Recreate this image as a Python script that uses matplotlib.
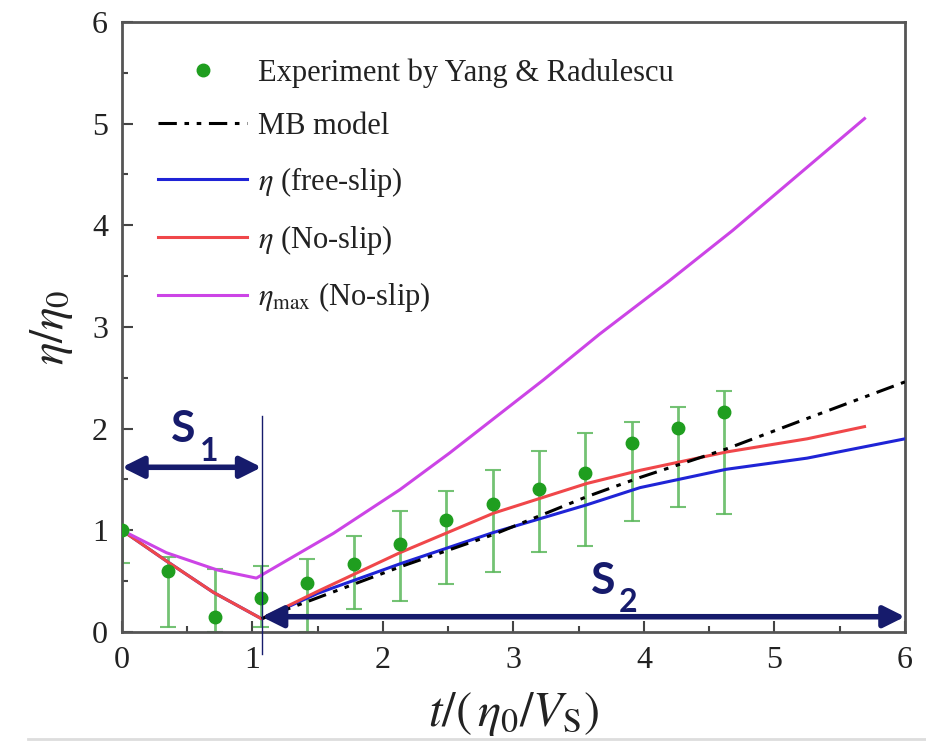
import matplotlib
matplotlib.use('Agg')
import matplotlib.pyplot as plt
from matplotlib.ticker import MultipleLocator
from matplotlib.lines import Line2D

plt.rcParams['font.family'] = ['Liberation Serif', 'DejaVu Serif']
plt.rcParams['mathtext.fontset'] = 'stix'

# experiment (Yang & Radulescu), asymmetric error bars
x_exp = [0, 0.355, 0.71, 1.065, 1.42, 1.775, 2.13, 2.485, 2.84, 3.195, 3.55, 3.905, 4.26, 4.615]
y_exp = [1.00, 0.60, 0.15, 0.33, 0.48, 0.67, 0.87, 1.10, 1.26, 1.41, 1.56, 1.86, 2.01, 2.16]
err_lo = [0.32, 0.55, 0.15, 0.28, 0.48, 0.44, 0.57, 0.63, 0.67, 0.62, 0.71, 0.77, 0.78, 1.00]
err_hi = [0.00, 0.14, 0.47, 0.32, 0.24, 0.27, 0.32, 0.29, 0.33, 0.37, 0.40, 0.21, 0.20, 0.21]

# MB model
x_mb = [1.07, 2.13, 2.85, 3.56, 3.97, 4.63, 5.25, 6.0]
y_mb = [0.13, 0.64, 0.96, 1.33, 1.52, 1.80, 2.10, 2.46]

# eta free-slip
x_free = [0, 0.35, 0.70, 1.07, 1.5, 2.13, 2.85, 3.56, 3.97, 4.63, 5.25, 6.0]
y_free = [1.0, 0.69, 0.39, 0.13, 0.38, 0.67, 0.98, 1.25, 1.42, 1.60, 1.71, 1.90]

# eta no-slip
x_no = [0, 0.35, 0.70, 1.07, 1.5, 2.13, 2.85, 3.56, 3.97, 4.63, 5.25, 5.69]
y_no = [1.0, 0.69, 0.39, 0.13, 0.40, 0.78, 1.17, 1.46, 1.59, 1.77, 1.90, 2.02]

# eta_max no-slip
x_max = [0, 0.34, 0.73, 1.03, 1.62, 2.13, 2.51, 3.23, 3.66, 4.18, 4.68, 5.69]
y_max = [1.0, 0.78, 0.61, 0.53, 0.97, 1.40, 1.76, 2.48, 2.93, 3.44, 3.95, 5.05]

navy = '#161b6c'

fig = plt.figure(figsize=(9.26, 7.45), dpi=100)
ax = fig.add_axes([0.1317, 0.1517, 0.8456, 0.8188])

ax.errorbar(x_exp, y_exp, yerr=[err_lo, err_hi], fmt='none', ecolor='#5cb85c',
            elinewidth=2, capsize=6, capthick=1.5, alpha=0.85, zorder=2)
ax.plot(x_exp, y_exp, 'o', color='#1f9e1f', ms=9, zorder=5,
        label='Experiment by Yang & Radulescu')
ax.plot(x_mb, y_mb, color='black', lw=2.2, ls=(0, (6, 2.5, 1.5, 2.5, 1.5, 2.5)), zorder=4,
        label='MB model')
ax.plot(x_free, y_free, color='#1f24d6', lw=2.2, zorder=3, label=r'$\eta$ (free-slip)')
ax.plot(x_no, y_no, color='#f0474a', lw=2.2, zorder=3, label=r'$\eta$ (No-slip)')
ax.plot(x_max, y_max, color='#cc44e6', lw=2.2, zorder=3, label=r'$\eta_\mathrm{max}$ (No-slip)')

ax.set_xlim(0, 6)
ax.set_ylim(0, 6)
ax.xaxis.set_major_locator(MultipleLocator(1))
ax.yaxis.set_major_locator(MultipleLocator(1))
ax.xaxis.set_minor_locator(MultipleLocator(0.5))
ax.yaxis.set_minor_locator(MultipleLocator(0.5))
ax.tick_params(which='both', direction='in', colors='#444444', labelcolor='#222222',
               labelsize=23, width=1.5)
ax.tick_params(which='major', length=8, pad=10)
ax.tick_params(which='minor', length=4)
for sp in ax.spines.values():
    sp.set_color('#555555')
    sp.set_linewidth(2)

ax.set_xlabel(r'$t/(\,\eta_0/V_\mathrm{S})$', fontsize=35, color='#222222', labelpad=11)
ax.set_ylabel(r'$\eta/\eta_0$', fontsize=34, color='#222222', labelpad=12)

leg = ax.legend(loc='upper left', bbox_to_anchor=(0.031, 0.96), frameon=False,
                fontsize=22, handlelength=2.9, handletextpad=0.35, labelspacing=0.78,
                borderaxespad=0)
for t in leg.get_texts():
    t.set_color('#222222')

# S1 / S2 annotations
ax.plot([1.07, 1.07], [-0.22, 2.12], color=navy, lw=1, clip_on=False, zorder=6)
ax.annotate('', xy=(0.0, 1.62), xytext=(1.07, 1.62),
            arrowprops=dict(arrowstyle='<|-|>', color=navy, lw=4, mutation_scale=32,
                            shrinkA=0, shrinkB=0), zorder=7)
ax.annotate('', xy=(1.07, 0.15), xytext=(6.0, 0.15),
            arrowprops=dict(arrowstyle='<|-|>', color=navy, lw=4, mutation_scale=32,
                            shrinkA=0, shrinkB=0), zorder=7, annotation_clip=False)
ax.text(0.47, 1.80, 'S', color=navy, fontsize=32, fontweight='bold', family='Lato',
        ha='center', va='bottom')
ax.text(0.67, 1.63, '1', color=navy, fontsize=23, fontweight='bold', family='Lato',
        ha='center', va='bottom')
ax.text(3.69, 0.30, 'S', color=navy, fontsize=32, fontweight='bold', family='Lato',
        ha='center', va='bottom')
ax.text(3.88, 0.15, '2', color=navy, fontsize=23, fontweight='bold', family='Lato',
        ha='center', va='bottom')

fig.add_artist(Line2D([0.03, 1.0], [0.008, 0.008], color='#dddddd', lw=2))

fig.savefig('out.png', dpi=100)
